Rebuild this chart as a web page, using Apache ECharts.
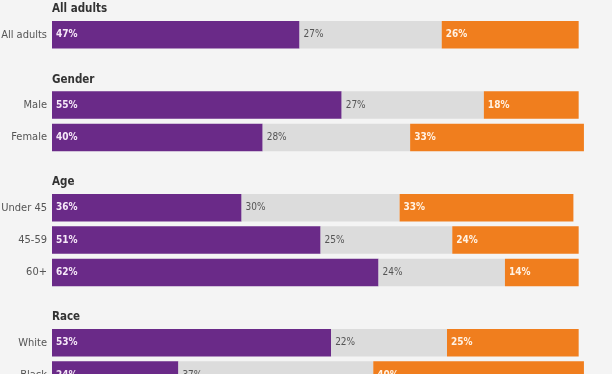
<!DOCTYPE html>
<html>
<head>
<meta charset="utf-8">
<script src="https://cdn.jsdelivr.net/npm/echarts@6/dist/echarts.min.js"></script>
<style>
html,body{margin:0;padding:0;background:#f4f4f4;}
#chart{width:612px;height:374px;}
</style>
</head>
<body>
<div id="chart"></div>
<script>
// ---- data ----
const groups = ['All adults', 'Gender', 'Age', 'Race'];
const categories = [
  ['All adults'],
  ['Male', 'Female'],
  ['Under 45', '45-59', '60+'],
  ['White', 'Black']
];
const seriesNames = ['Yes', 'Not sure', 'No'];
const valuesA = [[47], [55, 40], [36, 51, 62], [53, 24]];
const valuesB = [[27], [27, 28], [30, 25, 24], [22, 37]];
const valuesC = [[26], [18, 33], [33, 24, 14], [25, 40]];

// ---- styles ----
const FONT = '"Liberation Sans Narrow", "DejaVu Sans Condensed", sans-serif';
const colors = ['#6a2a88', '#dcdcdc', '#f07e1e'];
const labelColors = ['#f6e8f8', '#555555', '#fff2e4'];
const labelWeights = ['bold', 'normal', 'bold'];
const gridTops = [18.5, 88.8, 191.5, 326.5];
const rowPitch = 32.4;

const chart = echarts.init(document.getElementById('chart'), null, {renderer: 'canvas'});

const grids = [], xAxes = [], yAxes = [], titles = [], series = [];
const allValues = [valuesA, valuesB, valuesC];

groups.forEach((g, i) => {
  grids.push({
    left: 52, width: 553, top: gridTops[i], height: rowPitch * categories[i].length,
    containLabel: false, outerBoundsMode: 'none'
  });
  xAxes.push({type: 'value', gridIndex: i, min: 0, max: 105, show: false});
  yAxes.push({
    type: 'category', gridIndex: i, inverse: true, data: categories[i],
    axisLine: {show: false}, axisTick: {show: false}, splitLine: {show: false},
    axisLabel: {color: '#555', fontFamily: FONT, fontSize: 11, margin: 5}
  });
  titles.push({
    text: g, left: 52, top: gridTops[i] - 15, padding: 0, itemGap: 0,
    textStyle: {fontFamily: FONT, fontSize: 11.5, fontWeight: 'bold', color: '#333'}
  });
  allValues.forEach((vals, k) => {
    series.push({
      name: seriesNames[k], type: 'bar', stack: 'g' + i,
      xAxisIndex: i, yAxisIndex: i,
      data: vals[i], barCategoryGap: '15%',
      itemStyle: {color: colors[k]},
      label: {
        show: true, position: 'insideLeft', distance: 4,
        formatter: '{c}%', fontFamily: FONT, fontSize: 10,
        fontWeight: labelWeights[k], color: labelColors[k]
      },
      animation: false
    });
  });
});

chart.setOption({
  backgroundColor: '#f4f4f4',
  animation: false,
  title: titles,
  grid: grids,
  xAxis: xAxes,
  yAxis: yAxes,
  series: series
});
</script>
</body>
</html>
